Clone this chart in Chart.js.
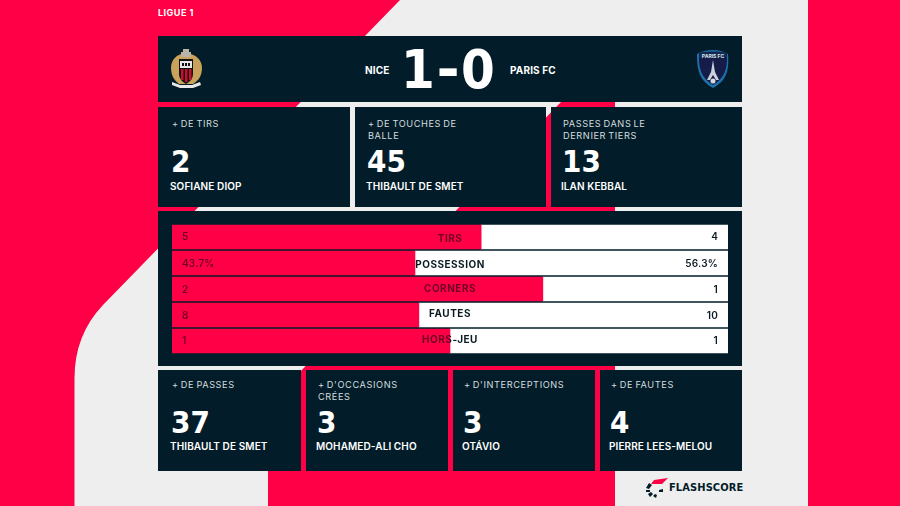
<!DOCTYPE html>
<html><head><meta charset="utf-8">
<script src="https://cdn.jsdelivr.net/npm/chart.js@4"></script>
<style>
html,body{margin:0;padding:0;width:900px;height:506px;overflow:hidden;background:#eeeeee;font-family:Inter,sans-serif}
#bg,#crests{position:absolute;left:0;top:0}
.p{position:absolute;background:#021d29}
.t{position:absolute;color:#fff;white-space:nowrap}
.title{font-size:9.2px;font-weight:400;letter-spacing:.6px;word-spacing:-1px;line-height:12px;color:#d5dcdf}
.num{font-family:"DejaVu Sans";font-stretch:condensed;font-weight:700;font-size:31px;line-height:31px;color:#fff}
.name{font-size:10px;font-weight:600;letter-spacing:.1px;line-height:12px;color:#fff}
.team{font-size:10px;font-weight:700;letter-spacing:.15px;line-height:12px}
#score{font-family:"DejaVu Sans";font-stretch:condensed;font-weight:700;font-size:54px;line-height:54px}
#score span{display:inline-block;margin:0 3px;transform:scaleX(1.15)}
#chartBox{position:absolute;left:172px;top:224px;width:556px;height:130px}
</style></head><body>
<svg id="bg" width="900" height="506" viewBox="0 0 900 506">
<path fill="#ff0046" d="M0 0H400L103 305Q74.5 335 74.5 378V506H0Z"/>
<path fill="#ff0046" d="M563 100H615V506H268V405Z"/>
<rect fill="#ff0046" x="808" y="0" width="92" height="506"/>
</svg>
<div class="p" style="left:158px;top:36px;width:584px;height:66px"></div>
<div class="p" style="left:158px;top:107px;width:191.500px;height:100px"></div>
<div class="p" style="left:355px;top:107px;width:191px;height:100px"></div>
<div class="p" style="left:551px;top:107px;width:191px;height:100px"></div>
<div class="p" style="left:158px;top:211px;width:584px;height:155px"></div>
<div class="p" style="left:158px;top:370px;width:142.500px;height:101px"></div>
<div class="p" style="left:306px;top:370px;width:141.500px;height:101px"></div>
<div class="p" style="left:453px;top:370px;width:141.500px;height:101px"></div>
<div class="p" style="left:600px;top:370px;width:142px;height:101px"></div>

<div class="t" style="left:158px;top:7px;font-size:9px;font-weight:700;letter-spacing:.5px;line-height:12px">LIGUE 1</div>
<div class="t team" style="left:365px;top:64px">NICE</div>
<div class="t team" style="left:510px;top:64px">PARIS FC</div>
<div class="t" id="score" style="left:401px;top:43px">1<span>-</span>0</div>

<div class="t title" style="left:172px;top:118px">+ DE TIRS</div>
<div class="t num" style="left:171px;top:146px">2</div>
<div class="t name" style="left:170px;top:180px">SOFIANE DIOP</div>

<div class="t title" style="left:368px;top:118px">+ DE TOUCHES DE<br>BALLE</div>
<div class="t num" style="left:367px;top:146px">45</div>
<div class="t name" style="left:366px;top:180px">THIBAULT DE SMET</div>

<div class="t title" style="left:563px;top:118px">PASSES DANS LE<br>DERNIER TIERS</div>
<div class="t num" style="left:562px;top:146px">13</div>
<div class="t name" style="left:561px;top:180px">ILAN KEBBAL</div>

<div class="t title" style="left:172px;top:379px">+ DE PASSES</div>
<div class="t num" style="left:171px;top:407px">37</div>
<div class="t name" style="left:170px;top:440px">THIBAULT DE SMET</div>

<div class="t title" style="left:318px;top:379px">+ D'OCCASIONS<br>CRÉES</div>
<div class="t num" style="left:317px;top:407px">3</div>
<div class="t name" style="left:316px;top:440px">MOHAMED-ALI CHO</div>

<div class="t title" style="left:464px;top:379px">+ D'INTERCEPTIONS</div>
<div class="t num" style="left:463px;top:407px">3</div>
<div class="t name" style="left:462px;top:440px">OTÁVIO</div>

<div class="t title" style="left:611px;top:379px">+ DE FAUTES</div>
<div class="t num" style="left:610px;top:407px">4</div>
<div class="t name" style="left:609px;top:440px">PIERRE LEES-MELOU</div>

<svg id="crests" width="900" height="506" viewBox="0 0 900 506">
<!-- Nice crest -->
<path fill="#c9a35a" d="M186 53C176 54 171 60 171 68C171 76 175 81 179 84H193C198 81 202 76 202 68C202 60 196 54 186 53Z"/>
<path fill="#b9b3a8" d="M183 49h6v3h2v5h-10v-5h2z"/>
<path fill="#111" d="M179 59H193V74Q193 80 186 84Q179 80 179 74Z"/>
<path fill="#c8102e" d="M181 69h2.500v11h-2.500zM185 69h2.500v13h-2.500zM189 69h2.500v11h-2.500z"/>
<rect fill="#e8e8e8" x="180" y="61" width="12" height="7"/>
<path fill="#111" d="M182 63h2v3h-2zM185 63h2v3h-2zM188 63h2v3h-2z"/>
<path fill="#e8e8e8" d="M172 82L180 85H192L200 82L201 85L193 88H180L172 85Z"/>
<!-- Paris FC crest -->
<path fill="#1f6fa8" d="M713 50C706 50 701 52 697 54C697 68 698 80 713 88C728 80 729 68 728 54C724 52 719 50 713 50Z"/>
<path fill="#161c4a" d="M713 57C708 57 702 57 699 58C699 68 701 78 713 85C725 78 727 68 727 58C724 57 718 57 713 57Z"/>
<path fill="#13294f" d="M699 53C704 51 722 51 727 53V58H699Z"/>
<text x="713" y="57.500" text-anchor="middle" font-family="Inter" font-weight="700" font-size="5" fill="#dfe6ee">PARIS FC</text>
<path fill="#c9d2dc" d="M713 60L715 72L719 80H716L713 75L710 80H707L711 72Z"/>
<circle cx="713" cy="81" r="2.500" fill="#d8dde3"/>
<!-- Flashscore mark -->
<path fill="#ff0046" d="M654 480L668 478L662 484H651Z"/>
<path fill="#021d29" d="M649 483L652 485L649 489L646 488ZM646 490H650V492H646ZM648 494L651 492L653 494L650 497ZM653 496L655 494L657 495L656 498ZM659 490L663 489V492L659 492Z"/>
</svg>
<div class="t" style="left:669px;top:481px;font-family:'DejaVu Sans';font-stretch:condensed;font-weight:700;font-size:11px;line-height:14px;letter-spacing:.1px;color:#021d29">FLASHSCORE</div>

<div id="chartBox"><canvas id="c"></canvas></div>
<script>
const categories=["TIRS","POSSESSION","CORNERS","FAUTES","HORS-JEU"];
const homeShare=[55.6,43.7,66.7,44.4,50];
const awayShare=[44.4,56.3,33.3,55.6,50];
const homeLabels=["5","43.7%","2","8","1"];
const awayLabels=["4","56.3%","1","10","1"];

const rowText={id:"rowText",afterDatasetsDraw(ch){
  const g=ch.ctx,x=ch.scales.x,y=ch.scales.y;
  const catNudge=[2,2,0,-1,-1],valNudge=[0,1,1,1,0];
  const ink=(edge)=>{const l=g.createLinearGradient(0,0,ch.width,0);
    const s=Math.min(1,edge/ch.width);
    l.addColorStop(0,"#6e0026");l.addColorStop(s,"#6e0026");l.addColorStop(s,"#0a1a22");l.addColorStop(1,"#0a1a22");return l;};
  g.save();g.textBaseline="middle";
  categories.forEach((c,i)=>{
    const py=y.getPixelForValue(i),edge=x.getPixelForValue(homeShare[i]);
    g.fillStyle=ink(edge);
    g.font="700 10px Inter";g.letterSpacing="0.5px";g.textAlign="center";
    g.fillText(c,x.getPixelForValue(50),py+catNudge[i]);
    g.font="600 10px Inter";g.letterSpacing="0.2px";g.textAlign="left";
    g.fillText(homeLabels[i],10,py+valNudge[i]);
    g.fillStyle="#0a1a22";g.textAlign="right";
    g.fillText(awayLabels[i],ch.width-10,py+valNudge[i]);
  });
  g.restore();
}};
new Chart(document.getElementById("c"),{
  type:"bar",
  data:{labels:categories,datasets:[
    {data:homeShare,backgroundColor:"#ff0046",borderWidth:0,stack:"s",barThickness:24},
    {data:awayShare,backgroundColor:"#ffffff",borderWidth:0,stack:"s",barThickness:24}
  ]},
  options:{indexAxis:"y",responsive:true,maintainAspectRatio:false,animation:false,
    layout:{padding:0},
    plugins:{legend:{display:false},tooltip:{enabled:false}},
    scales:{
      x:{display:false,stacked:true,min:0,max:100},
      y:{display:false,stacked:true}
    }},
  plugins:[rowText]
});
</script>
</body></html>
